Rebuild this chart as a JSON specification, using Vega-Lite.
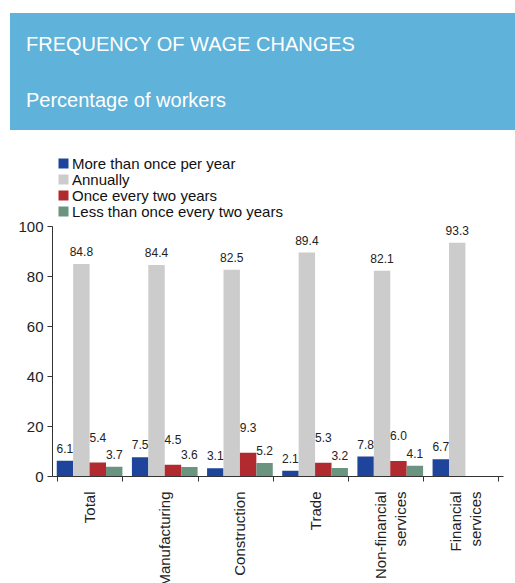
{
  "$schema": "https://vega.github.io/schema/vega-lite/v6.json",
  "padding": {"left": 10, "top": 13, "right": 0, "bottom": 0},
  "background": "white",
  "center": true,
  "spacing": 26,
  "resolve": {"legend": {"color": "independent"}, "scale": {"color": "independent"}},
  "config": {"font": "Liberation Sans", "view": {"stroke": null}, "legend": {"rowPadding": -4}},
  "vconcat": [
    {
      "width": 535,
      "height": 117,
      "view": {"fill": "#5fb2d9", "stroke": null},
      "title": {
        "text": "FREQUENCY OF WAGE CHANGES",
        "subtitle": "Percentage of workers",
        "anchor": "start",
        "frame": "group",
        "orient": "top",
        "offset": -98,
        "dx": 16,
        "color": "#ffffff",
        "subtitleColor": "#ffffff",
        "fontSize": 20,
        "subtitleFontSize": 20,
        "fontWeight": "normal",
        "font": "Liberation Sans",
        "subtitleFont": "Liberation Sans",
        "subtitlePadding": 36
      },
      "data": {"values": []},
      "mark": "point"
    },
    {
      "width": 451,
      "height": 250,
      "data": {
        "values": [
          {"sector": "Total", "frequency": "More than once per year", "pct": 6.1},
          {"sector": "Total", "frequency": "Annually", "pct": 84.8},
          {"sector": "Total", "frequency": "Once every two years", "pct": 5.4},
          {"sector": "Total", "frequency": "Less than once every two years", "pct": 3.7},
          {"sector": "Manufacturing", "frequency": "More than once per year", "pct": 7.5},
          {"sector": "Manufacturing", "frequency": "Annually", "pct": 84.4},
          {"sector": "Manufacturing", "frequency": "Once every two years", "pct": 4.5},
          {"sector": "Manufacturing", "frequency": "Less than once every two years", "pct": 3.6},
          {"sector": "Construction", "frequency": "More than once per year", "pct": 3.1},
          {"sector": "Construction", "frequency": "Annually", "pct": 82.5},
          {"sector": "Construction", "frequency": "Once every two years", "pct": 9.3},
          {"sector": "Construction", "frequency": "Less than once every two years", "pct": 5.2},
          {"sector": "Trade", "frequency": "More than once per year", "pct": 2.1},
          {"sector": "Trade", "frequency": "Annually", "pct": 89.4},
          {"sector": "Trade", "frequency": "Once every two years", "pct": 5.3},
          {"sector": "Trade", "frequency": "Less than once every two years", "pct": 3.2},
          {"sector": "Non-financial services", "frequency": "More than once per year", "pct": 7.8},
          {"sector": "Non-financial services", "frequency": "Annually", "pct": 82.1},
          {"sector": "Non-financial services", "frequency": "Once every two years", "pct": 6.0},
          {"sector": "Non-financial services", "frequency": "Less than once every two years", "pct": 4.1},
          {"sector": "Financial services", "frequency": "More than once per year", "pct": 6.7},
          {"sector": "Financial services", "frequency": "Annually", "pct": 93.3}
        ]
      },
      "encoding": {
        "x": {
          "field": "sector",
          "type": "nominal",
          "sort": ["Total", "Manufacturing", "Construction", "Trade", "Non-financial services", "Financial services"],
          "scale": {"paddingInner": 0.126, "paddingOuter": 0.063},
          "axis": {
            "title": null,
            "labelAngle": -90,
            "labelFontSize": 15,
            "labelColor": "#222222",
            "labelPadding": 10,
            "labelLineHeight": 20,
            "labelOffset": {"condition": {"test": "datum.value == 'Non-financial services' || datum.value == 'Financial services'", "value": -10}, "value": 0},
            "tickBand": "extent",
            "tickSize": 5,
            "tickColor": "#333333",
            "domainColor": "#333333",
            "labelExpr": "datum.value == 'Non-financial services' ? ['Non-financial', 'services'] : datum.value == 'Financial services' ? ['Financial', 'services'] : datum.value"
          }
        },
        "xOffset": {
          "field": "frequency",
          "type": "nominal",
          "sort": ["More than once per year", "Annually", "Once every two years", "Less than once every two years"],
          "scale": {"paddingInner": 0, "paddingOuter": 0}
        },
        "y": {
          "field": "pct",
          "type": "quantitative",
          "scale": {"domain": [0, 100]},
          "axis": {
            "title": null,
            "values": [0, 20, 40, 60, 80, 100],
            "grid": false,
            "tickSize": 5,
            "labelFontSize": 15,
            "labelColor": "#222222",
            "labelPadding": 4,
            "tickColor": "#333333",
            "domainColor": "#333333"
          }
        }
      },
      "layer": [
        {
          "mark": {"type": "bar"},
          "encoding": {
            "color": {
              "field": "frequency",
              "type": "nominal",
              "sort": ["More than once per year", "Annually", "Once every two years", "Less than once every two years"],
              "scale": {
                "domain": ["More than once per year", "Annually", "Once every two years", "Less than once every two years"],
                "range": ["#1f449b", "#cccccc", "#b12a2f", "#6a9380"]
              },
              "legend": {
                "title": null,
                "orient": "none",
                "legendX": 4,
                "legendY": -70,
                "symbolType": "square",
                "symbolSize": 100,
                "symbolStrokeWidth": 0,
                "labelFontSize": 15,
                "labelColor": "#111111",
                "labelOffset": 1,
                "rowPadding": -4,
                "padding": 0,
                "labelLimit": 400
              }
            }
          }
        },
        {
          "transform": [{"filter": "datum.frequency !== 'Once every two years'"}],
          "mark": {"type": "text", "dy": -12, "baseline": "middle", "fontSize": 12, "color": "#222222"},
          "encoding": {"text": {"field": "pct", "type": "quantitative", "format": ".1f"}}
        },
        {
          "transform": [{"filter": "datum.frequency === 'Once every two years'"}],
          "mark": {"type": "text", "dy": -25, "baseline": "middle", "fontSize": 12, "color": "#222222"},
          "encoding": {"text": {"field": "pct", "type": "quantitative", "format": ".1f"}}
        }
      ]
    }
  ]
}
